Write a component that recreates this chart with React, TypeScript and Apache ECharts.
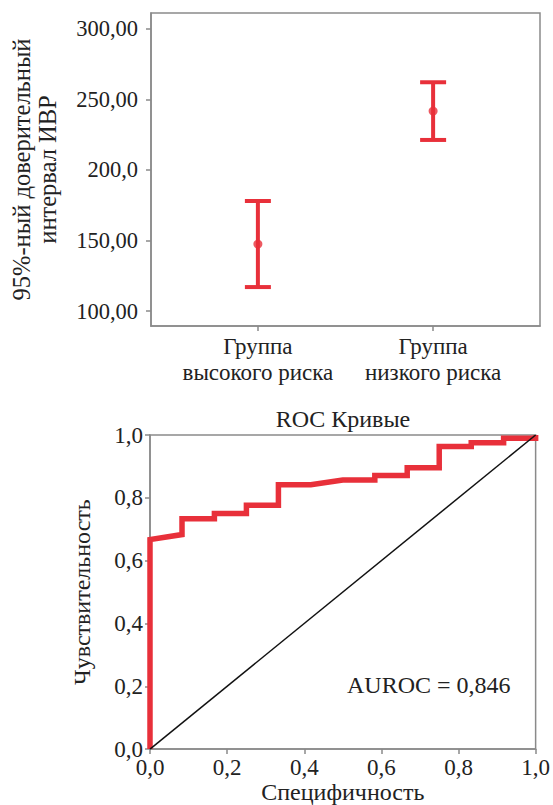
import React, { useEffect, useRef } from "react";
import * as echarts from "echarts";

// ---- Top chart: 95% CI of ИВР by group ----
const groupLabels = ["Группа\nвысокого риска", "Группа\nнизкого риска"];
const groupLow = [117, 221.3];
const groupMean = [147.5, 241.8];
const groupHigh = [178, 262.2];
const ciTickValues = [100, 150, 200, 250, 300];
const ciTickLabels = ["100,00", "150,00", "200,0", "250,00", "300,00"];

// ---- Bottom chart: ROC curve ----
const rocX = [0, 0, 0.083, 0.083, 0.167, 0.167, 0.25, 0.25, 0.333, 0.333, 0.417, 0.5, 0.583, 0.583, 0.667, 0.667, 0.75, 0.75, 0.833, 0.833, 0.917, 0.917, 1, 1];
const rocY = [0, 0.667, 0.683, 0.733, 0.733, 0.75, 0.75, 0.776, 0.776, 0.842, 0.842, 0.857, 0.857, 0.871, 0.871, 0.896, 0.896, 0.963, 0.963, 0.975, 0.975, 0.99, 0.99, 1];
const diagX = [0, 1];
const diagY = [0, 1];
const aurocText = "AUROC = 0,846";
const rocTitle = "ROC Кривые";

const RED = "#e8303a";
const AXIS = "#8a8a8a";
const TEXT = "#222222";
const FONT = "'Liberation Serif', 'Times New Roman', serif";

export default function App() {
  const ref = useRef<HTMLDivElement>(null);
  useEffect(() => {
    document.body.style.margin = "0";
    const chart = echarts.init(ref.current!, null, { renderer: "svg" });
    const axisLine = { show: true, lineStyle: { color: AXIS, width: 1.5 } };
    const axisTick = { show: true, length: 5, lineStyle: { color: AXIS, width: 1.5 } };
    const fmtDec = (v: number) => v.toFixed(1).replace(".", ",");
    chart.setOption({
      animation: false,
      textStyle: { fontFamily: FONT },
      grid: [
        { left: 149, top: 13, width: 391, height: 313, show: true, borderColor: AXIS, borderWidth: 1.5 },
        { left: 150, top: 435, width: 387, height: 317, show: true, borderColor: AXIS, borderWidth: 1.5 },
      ],
      xAxis: [
        {
          gridIndex: 0, type: "value", min: 0.39, max: 2.61,
          axisLine, axisTick: { ...axisTick, customValues: [1, 2] },
          splitLine: { show: false },
          axisLabel: {
            customValues: [1, 2], margin: 7, fontSize: 23, lineHeight: 26, color: TEXT, fontFamily: FONT,
            formatter: (v: number) => groupLabels[Math.round(v) - 1],
          },
        },
        {
          gridIndex: 1, type: "value", min: 0, max: 1, interval: 0.2,
          axisLine, axisTick, splitLine: { show: false },
          axisLabel: { margin: 7, fontSize: 23, color: TEXT, fontFamily: FONT, formatter: fmtDec },
          name: "Специфичность", nameLocation: "middle", nameGap: 28,
          nameTextStyle: { fontSize: 24, color: TEXT, fontFamily: FONT },
        },
      ],
      yAxis: [
        {
          gridIndex: 0, type: "value", min: 89.4, max: 311.3,
          axisLine, axisTick: { ...axisTick, customValues: ciTickValues },
          splitLine: { show: false },
          axisLabel: {
            customValues: ciTickValues, margin: 13, fontSize: 22.5, color: TEXT, fontFamily: FONT,
            formatter: (v: number) => ciTickLabels[ciTickValues.indexOf(Math.round(v))],
          },
          name: "95%-ный доверительный\nинтервал ИВР", nameLocation: "middle", nameRotate: 90, nameGap: 91,
          nameTextStyle: { fontSize: 24.5, lineHeight: 26, color: TEXT, fontFamily: FONT },
        },
        {
          gridIndex: 1, type: "value", min: 0, max: 1, interval: 0.2,
          axisLine, axisTick, splitLine: { show: false },
          axisLabel: { margin: 7, fontSize: 23, color: TEXT, fontFamily: FONT, formatter: fmtDec },
          name: "Чувствительность", nameLocation: "middle", nameRotate: 90, nameGap: 56,
          nameTextStyle: { fontSize: 24, color: TEXT, fontFamily: FONT },
        },
      ],
      series: [
        {
          type: "custom", xAxisIndex: 0, yAxisIndex: 0,
          data: groupLow.map((lo, i) => [i + 1, lo, groupHigh[i]]),
          renderItem: (params: any, api: any) => {
            const x = api.value(0);
            const pHi = api.coord([x, api.value(2)]);
            const pLo = api.coord([x, api.value(1)]);
            const half = 13;
            const st = { stroke: RED, lineWidth: 4 };
            return {
              type: "group",
              children: [
                { type: "line", shape: { x1: pHi[0], y1: pHi[1], x2: pLo[0], y2: pLo[1] }, style: st },
                { type: "line", shape: { x1: pHi[0] - half, y1: pHi[1], x2: pHi[0] + half, y2: pHi[1] }, style: st },
                { type: "line", shape: { x1: pLo[0] - half, y1: pLo[1], x2: pLo[0] + half, y2: pLo[1] }, style: st },
              ],
            };
          },
        },
        {
          type: "scatter", xAxisIndex: 0, yAxisIndex: 0, symbol: "circle", symbolSize: 9,
          itemStyle: { color: RED },
          data: groupMean.map((m, i) => [i + 1, m]),
        },
        {
          type: "line", xAxisIndex: 1, yAxisIndex: 1, showSymbol: false, symbol: "none",
          lineStyle: { color: RED, width: 5.5, join: "miter", cap: "butt" },
          data: rocX.map((x, i) => [x, rocY[i]]),
        },
        {
          type: "line", xAxisIndex: 1, yAxisIndex: 1, showSymbol: false, symbol: "none",
          lineStyle: { color: "#111", width: 1.5 },
          data: diagX.map((x, i) => [x, diagY[i]]),
        },
      ],
      graphic: [
        {
          type: "text", x: 343, y: 419,
          style: { text: rocTitle, fill: TEXT, font: `24px ${FONT}`, textAlign: "center", textVerticalAlign: "middle" },
        },
        {
          type: "text", x: 347, y: 685,
          style: { text: aurocText, fill: TEXT, font: `24px ${FONT}`, textAlign: "left", textVerticalAlign: "middle" },
        },
      ],
    });
    return () => chart.dispose();
  }, []);
  return <div ref={ref} style={{ width: 553, height: 805 }} />;
}
